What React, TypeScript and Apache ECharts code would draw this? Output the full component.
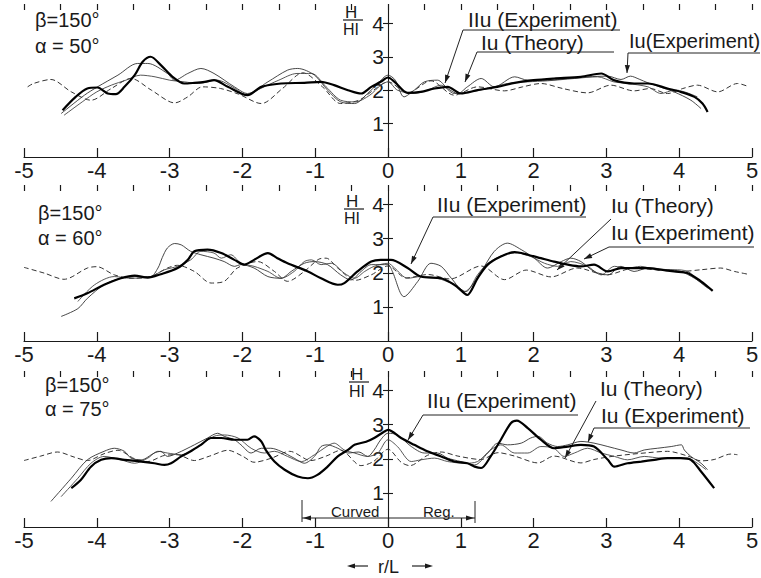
import React, { useEffect, useRef } from 'react';
import * as echarts from 'echarts';

type Pt = [number, number];

// ---- axis tick values ----
const xTickValues = [-5, -4, -3, -2, -1, 0, 1, 2, 3, 4, 5];
const xMinorValues = [-4.5, -3.5, -2.5, -1.5, -0.5, 0.5, 1.5, 2.5, 3.5, 4.5];
const yTickValues = [1, 2, 3, 4];

const panelParams = [
  ['β=150°', 'α = 50°'],
  ['β=150°', 'α = 60°'],
  ['β=150°', 'α = 75°'],
];

// ---- Panel 1 (α = 50°) ----
const p1Theory: Pt[] = [[-4.95,2.1],[-4.87,2.2],[-4.63,2.32],[-4.35,1.95],[-4.08,1.7],[-3.8,2.05],[-3.53,2.35],[-3.25,2.0],[-2.93,1.62],[-2.75,1.8],[-2.55,2.1],[-2.3,2.05],[-2.05,1.88],[-1.74,1.6],[-1.45,2.05],[-1.17,2.52],[-0.9,2.1],[-0.65,1.6],[-0.4,1.7],[-0.2,2.0],[0,2.25],[0.27,1.92],[0.59,2.28],[0.91,1.85],[1.23,2.1],[1.6,1.98],[1.85,2.1],[2.1,2.2],[2.4,2.05],[2.74,1.92],[3.06,2.15],[3.38,1.98],[3.6,2.05],[3.84,1.9],[4.05,2.05],[4.25,2.15],[4.53,1.95],[4.8,2.2],[4.96,2.1]];
const p1IIuExp: Pt[] = [[-4.47,1.4],[-4.29,1.8],[-4.13,2.05],[-3.99,2.08],[-3.85,1.9],[-3.74,1.88],[-3.62,2.1],[-3.48,2.45],[-3.37,2.85],[-3.26,3.0],[-3.12,2.75],[-2.96,2.4],[-2.8,2.2],[-2.66,2.22],[-2.52,2.25],[-2.39,2.3],[-2.2,2.1],[-1.93,1.85],[-1.74,2.1],[-1.47,2.2],[-1.15,2.22],[-0.92,2.25],[-0.74,2.15],[-0.55,2.0],[-0.37,1.9],[-0.23,2.1],[-0.1,2.25],[0,2.38],[0.09,2.25],[0.27,1.92],[0.45,1.95],[0.64,2.05],[0.82,2.1],[1.0,1.9],[1.23,2.0],[1.5,2.1],[1.74,2.22],[2.0,2.3],[2.28,2.35],[2.65,2.4],[2.93,2.5],[3.1,2.3],[3.38,2.2],[3.57,2.2],[3.84,2.05],[4.02,1.95],[4.21,1.8],[4.32,1.6],[4.39,1.35]];
const p1IuExpA: Pt[] = [[-4.49,1.3],[-4.17,1.85],[-3.99,2.1],[-3.71,2.45],[-3.44,2.8],[-3.3,2.8],[-3.03,2.5],[-2.93,2.3],[-2.75,2.5],[-2.57,2.65],[-2.39,2.5],[-2.11,2.1],[-1.93,1.9],[-1.65,2.25],[-1.38,2.6],[-1.24,2.65],[-1.01,2.45],[-0.83,2.0],[-0.65,1.65],[-0.46,1.6],[-0.28,1.9],[-0.14,2.2],[0,2.45],[0.1,2.3],[0.22,1.8],[0.36,2.0],[0.5,2.25],[0.68,2.3],[0.82,2.05],[0.96,1.9],[1.09,2.1],[1.28,2.35],[1.46,2.1],[1.74,2.4],[1.92,2.3],[2.19,2.3],[2.47,2.35],[2.74,2.4],[3.02,2.42],[3.2,2.32],[3.33,2.42],[3.45,2.33],[3.57,2.22],[3.8,2.05],[3.93,1.95],[4.16,1.7],[4.3,1.45]];
const p1IuExpB: Pt[] = [[-4.45,1.25],[-4.2,1.65],[-4.0,1.95],[-3.8,2.15],[-3.6,2.3],[-3.4,2.45],[-3.2,2.4],[-3.0,2.3],[-2.8,2.25],[-2.6,2.2],[-2.35,2.3],[-2.1,2.05],[-1.95,1.85],[-1.75,2.05],[-1.5,2.3],[-1.25,2.5],[-1.05,2.5],[-0.85,2.1],[-0.65,1.7],[-0.45,1.65],[-0.25,1.85],[-0.1,2.15],[0,2.25],[0.13,2.0],[0.36,1.9],[0.54,2.0],[0.73,2.15],[0.91,1.9],[1.14,1.95],[1.37,2.05],[1.64,2.2],[1.92,2.25],[2.19,2.28],[2.56,2.35],[2.88,2.4],[3.1,2.25],[3.29,2.2],[3.57,2.1],[3.75,1.9],[3.93,2.0],[4.07,1.95],[4.25,1.8]];

// ---- Panel 2 (α = 60°) ----
const p2Theory: Pt[] = [[-5.0,2.16],[-4.72,1.99],[-4.45,1.81],[-4.13,2.14],[-4.0,2.18],[-3.76,1.94],[-3.53,1.84],[-3.26,1.89],[-3.03,2.14],[-2.89,2.22],[-2.66,2.04],[-2.43,1.7],[-2.25,1.75],[-2.07,2.14],[-1.79,2.33],[-1.56,2.04],[-1.38,1.75],[-1.15,2.04],[-0.95,2.4],[-0.85,2.43],[-0.69,2.14],[-0.45,1.78],[-0.23,1.94],[0,2.2],[0.25,1.85],[0.55,1.95],[0.85,1.82],[1.28,2.2],[1.6,1.8],[1.9,2.08],[2.24,1.88],[2.6,2.14],[3.0,1.94],[3.38,2.14],[3.66,2.09],[4.02,2.04],[4.3,2.09],[4.57,2.14],[4.76,2.04],[4.94,1.96]];
const p2IIuExp: Pt[] = [[-4.31,1.25],[-4.13,1.4],[-3.9,1.65],[-3.67,1.84],[-3.48,1.92],[-3.3,1.86],[-3.12,1.96],[-2.89,2.14],[-2.75,2.38],[-2.66,2.63],[-2.48,2.68],[-2.29,2.58],[-2.11,2.38],[-1.97,2.24],[-1.84,2.38],[-1.65,2.58],[-1.52,2.43],[-1.38,2.28],[-1.1,2.04],[-0.92,1.84],[-0.69,1.65],[-0.6,1.7],[-0.42,2.04],[-0.23,2.33],[-0.1,2.38],[0.04,2.38],[0.27,2.14],[0.45,1.89],[0.73,1.84],[0.91,1.65],[1.05,1.4],[1.09,1.35],[1.23,1.84],[1.37,2.24],[1.55,2.48],[1.74,2.61],[1.92,2.53],[2.1,2.43],[2.28,2.33],[2.47,2.24],[2.65,2.19],[2.83,2.24],[3.02,2.04],[3.2,2.14],[3.38,2.14],[3.57,2.14],[3.75,2.09],[3.93,2.04],[4.12,1.99],[4.3,1.75],[4.46,1.47]];
const p2IuExpA: Pt[] = [[-4.49,0.72],[-4.26,0.95],[-4.13,1.25],[-3.9,1.65],[-3.67,1.84],[-3.44,1.89],[-3.26,1.89],[-3.16,2.14],[-3.1,2.45],[-3.03,2.73],[-2.93,2.86],[-2.84,2.82],[-2.71,2.63],[-2.57,2.53],[-2.39,2.43],[-2.25,2.33],[-2.11,2.19],[-2.02,2.24],[-1.84,2.14],[-1.65,1.89],[-1.47,1.84],[-1.33,2.04],[-1.15,2.28],[-1.01,2.33],[-0.83,2.24],[-0.65,1.94],[-0.51,1.79],[-0.37,2.04],[-0.23,2.24],[0,2.24],[0.06,2.04],[0.22,1.3],[0.41,1.75],[0.59,2.28],[0.73,2.19],[0.87,1.84],[1.05,1.45],[1.28,2.04],[1.46,2.63],[1.64,2.87],[1.83,2.68],[2.01,2.43],[2.19,2.14],[2.38,2.33],[2.51,2.43],[2.65,2.33],[2.83,2.04],[3.02,1.94],[3.2,2.19],[3.38,2.04],[3.57,2.14],[3.84,2.09],[4.02,2.04],[4.21,1.84],[4.44,1.5]];
const p2IuExpB: Pt[] = [[-4.26,1.16],[-4.03,1.65],[-3.76,1.89],[-3.53,1.84],[-3.26,1.89],[-3.07,2.09],[-2.89,2.19],[-2.71,2.38],[-2.57,2.63],[-2.39,2.58],[-2.29,2.43],[-2.16,2.53],[-2.02,2.28],[-1.84,2.19],[-1.65,2.04],[-1.47,1.84],[-1.29,2.04],[-1.15,2.33],[-1.05,2.38],[-0.92,2.24],[-0.78,2.28],[-0.6,1.99],[-0.46,1.84],[-0.32,2.04],[-0.19,2.19],[0,2.28],[0.09,2.14],[0.27,1.84],[0.45,1.89],[0.68,1.84],[0.91,1.65],[1.07,1.45],[1.23,1.94],[1.37,2.28],[1.6,2.53],[1.78,2.58],[1.96,2.48],[2.15,2.28],[2.33,2.19],[2.51,2.33],[2.74,2.19],[2.93,1.94],[3.11,2.19],[3.29,2.14],[3.47,2.19],[3.71,2.09],[3.93,2.09],[4.12,2.04],[4.25,1.79],[4.39,1.55]];

// ---- Panel 3 (α = 75°) ----
const p3Theory: Pt[] = [[-5.0,1.95],[-4.77,2.08],[-4.54,2.2],[-4.31,2.05],[-4.13,1.95],[-3.9,2.15],[-3.71,2.25],[-3.48,2.0],[-3.3,1.92],[-3.07,2.1],[-2.9,2.12],[-2.66,1.95],[-2.45,2.08],[-2.2,2.25],[-2.0,2.08],[-1.84,1.9],[-1.6,2.02],[-1.35,2.22],[-1.06,1.95],[-0.85,2.08],[-0.65,2.25],[-0.37,1.8],[-0.2,1.92],[0,2.28],[0.18,1.9],[0.3,1.8],[0.54,2.1],[0.73,2.2],[0.96,2.08],[1.28,1.98],[1.51,2.18],[1.74,2.08],[2.06,1.88],[2.28,2.08],[2.65,1.88],[2.83,1.98],[3.11,2.08],[3.57,2.18],[3.84,2.22],[4.12,2.08],[4.3,1.94],[4.48,1.98],[4.71,2.14],[4.8,2.12]];
const p3IIuExp: Pt[] = [[-4.35,1.14],[-4.22,1.38],[-4.08,1.77],[-3.94,1.97],[-3.8,2.02],[-3.62,1.97],[-3.39,1.92],[-3.21,1.87],[-3.07,1.82],[-2.98,1.87],[-2.84,2.07],[-2.71,2.22],[-2.57,2.41],[-2.43,2.61],[-2.29,2.61],[-2.11,2.56],[-1.93,2.56],[-1.84,2.66],[-1.74,2.51],[-1.68,2.26],[-1.56,1.92],[-1.42,1.68],[-1.24,1.48],[-1.1,1.43],[-0.97,1.53],[-0.83,1.77],[-0.69,2.07],[-0.55,2.26],[-0.46,2.41],[-0.3,2.5],[-0.19,2.61],[-0.05,2.8],[0,2.85],[0.18,2.61],[0.36,2.41],[0.54,2.22],[0.73,2.07],[0.91,1.92],[1.09,1.87],[1.19,1.77],[1.28,1.73],[1.41,2.07],[1.55,2.56],[1.69,3.05],[1.77,3.12],[1.92,2.9],[2.1,2.56],[2.28,2.31],[2.47,2.36],[2.65,2.41],[2.83,2.36],[3.02,1.97],[3.11,1.77],[3.29,1.87],[3.48,1.92],[3.66,1.97],[3.84,2.02],[4.02,2.02],[4.16,1.97],[4.3,1.63],[4.48,1.14]];
const p3IuExpA: Pt[] = [[-4.63,0.75],[-4.35,1.43],[-4.13,1.97],[-3.9,2.22],[-3.76,2.31],[-3.62,2.22],[-3.53,2.02],[-3.39,1.97],[-3.21,2.17],[-3.12,2.22],[-3.03,2.07],[-2.89,2.17],[-2.66,2.41],[-2.48,2.61],[-2.34,2.75],[-2.25,2.66],[-2.11,2.56],[-2.02,2.41],[-1.88,2.17],[-1.74,2.31],[-1.61,2.31],[-1.47,2.22],[-1.29,2.02],[-1.15,1.87],[-1.01,2.07],[-0.92,2.36],[-0.83,2.41],[-0.69,2.31],[-0.55,2.17],[-0.4,2.2],[-0.28,2.07],[-0.19,2.26],[-0.1,2.56],[0,2.75],[0.13,2.7],[0.32,2.36],[0.5,2.17],[0.68,2.17],[0.82,2.02],[1.0,1.92],[1.19,1.82],[1.37,2.17],[1.51,2.46],[1.64,2.41],[1.83,2.46],[1.96,2.61],[2.06,2.66],[2.19,2.46],[2.33,2.36],[2.47,2.41],[2.65,2.51],[2.83,2.46],[3.02,2.36],[3.2,2.26],[3.38,2.17],[3.52,2.26],[3.7,2.31],[3.89,2.36],[4.03,2.41],[4.07,2.26],[4.16,2.07],[4.3,1.87],[4.39,1.68]];
const p3IuExpB: Pt[] = [[-4.49,0.89],[-4.26,1.43],[-4.08,1.87],[-3.9,2.07],[-3.67,1.97],[-3.48,1.87],[-3.3,2.02],[-3.16,2.22],[-3.03,2.17],[-2.84,2.12],[-2.61,2.36],[-2.39,2.66],[-2.25,2.7],[-2.06,2.61],[-1.88,2.31],[-1.7,2.17],[-1.56,2.22],[-1.38,2.07],[-1.19,1.92],[-1.01,2.12],[-0.85,2.35],[-0.74,2.46],[-0.6,2.26],[-0.46,2.17],[-0.28,2.07],[-0.14,2.17],[0,2.56],[0.13,2.36],[0.32,1.92],[0.45,1.97],[0.64,2.02],[0.82,1.92],[1.05,1.87],[1.23,1.92],[1.41,2.26],[1.55,2.41],[1.74,2.17],[1.92,2.17],[2.1,2.36],[2.28,2.31],[2.42,2.07],[2.56,2.17],[2.74,2.31],[2.93,2.17],[3.11,2.07],[3.29,1.97],[3.52,2.07],[3.75,2.02],[3.98,2.02],[4.12,2.02],[4.25,1.87],[4.37,1.68]];

const panels = [
  { theory: p1Theory, thick: p1IIuExp, thinA: p1IuExpA, thinB: p1IuExpB },
  { theory: p2Theory, thick: p2IIuExp, thinA: p2IuExpA, thinB: p2IuExpB },
  { theory: p3Theory, thick: p3IIuExp, thinA: p3IuExpA, thinB: p3IuExpB },
];

// ---- layout (pixels) ----
const GRID_LEFT = 24;
const GRID_RIGHT = 9;
const W = 761;
const H = 578;
const ZERO_X_OFFSET = (W - GRID_LEFT - GRID_RIGHT) / 2;
const panelBoxes = [
  { top: 10, height: 147 },
  { top: 191, height: 150 },
  { top: 377, height: 150 },
];
const paramPos = [
  { x: 35, y1: 10, y2: 36 },
  { x: 38, y1: 203, y2: 228 },
  { x: 45, y1: 375, y2: 399 },
];
const fracPos = [
  { x: 343, y: 4 },
  { x: 344, y: 193 },
  { x: 349, y: 366 },
];

const INK = '#1a1a1a';
const FONT = '"Liberation Sans", Arial, "DejaVu Sans", sans-serif';

function arrowHead(tx: number, ty: number, fx: number, fy: number, size = 8, half = 2.6) {
  const dx = tx - fx;
  const dy = ty - fy;
  const L = Math.hypot(dx, dy) || 1;
  const ux = dx / L;
  const uy = dy / L;
  const bx = tx - ux * size;
  const by = ty - uy * size;
  return {
    type: 'polygon',
    silent: true,
    shape: { points: [[tx, ty], [bx - uy * half, by + ux * half], [bx + uy * half, by - ux * half]] },
    style: { fill: INK },
  };
}

function label(text: string, x: number, y: number, fontSize = 21) {
  return {
    type: 'text',
    silent: true,
    x,
    y,
    style: { text, fill: INK, font: `${fontSize}px ${FONT}`, textVerticalAlign: 'top', textAlign: 'left' },
  };
}

function leader(points: number[][]) {
  const n = points.length;
  return [
    { type: 'polyline', silent: true, shape: { points }, style: { stroke: '#222', lineWidth: 1, fill: 'none' } },
    arrowHead(points[n - 1][0], points[n - 1][1], points[n - 2][0], points[n - 2][1]),
  ];
}

const annotations = [
  // panel 1
  { text: 'IIu (Experiment)', x: 468, y: 9, size: 21, path: [[620, 30], [463, 30], [445, 83]] },
  { text: 'Iu (Theory)', x: 481, y: 32, size: 21, path: [[614, 52], [477, 52], [465, 82]] },
  { text: 'Iu(Experiment)', x: 629, y: 31, size: 20, path: [[760, 53], [628, 53], [627, 73]] },
  // panel 2
  { text: 'IIu (Experiment)', x: 437, y: 194, size: 21, path: [[586, 217], [433, 217], [411, 264]] },
  { text: 'Iu (Theory)', x: 611, y: 195, size: 21, path: [[611, 219], [557, 270]] },
  { text: 'Iu (Experiment)', x: 611, y: 222, size: 21, path: [[754, 247], [609, 247], [584, 259]] },
  // panel 3
  { text: 'IIu (Experiment)', x: 427, y: 390, size: 21, path: [[578, 415], [423, 415], [408, 440]] },
  { text: 'Iu (Theory)', x: 600, y: 378, size: 21, path: [[596, 401], [565, 458]] },
  { text: 'Iu (Experiment)', x: 601, y: 405, size: 21, path: [[750, 428], [594, 428], [588, 442]] },
];

export default function App() {
  const ref = useRef<HTMLDivElement>(null);

  useEffect(() => {
    if (!ref.current) return;
    const chart = echarts.init(ref.current, undefined, { renderer: 'svg' });

    const grids: any[] = [];
    const xAxes: any[] = [];
    const yAxes: any[] = [];
    const series: any[] = [];

    panels.forEach((p, i) => {
      grids.push({
        left: GRID_LEFT,
        right: GRID_RIGHT,
        top: panelBoxes[i].top,
        height: panelBoxes[i].height,
        containLabel: false,
        outerBoundsMode: 'none',
        show: false,
      });
      // main x axis: line, major ticks (upward), labels
      xAxes.push({
        type: 'value',
        gridIndex: i,
        min: -5,
        max: 5,
        axisLine: { show: true, onZero: false, lineStyle: { color: INK, width: 1.2 } },
        axisTick: { show: true, inside: true, length: 9, customValues: xTickValues, lineStyle: { color: INK, width: 1.2 } },
        axisLabel: {
          show: true,
          customValues: xTickValues,
          formatter: (v: number) => (v < 0 ? '-' + Math.abs(v) : String(v)),
          fontSize: 22,
          fontFamily: FONT,
          color: INK,
          margin: 2,
        },
        splitLine: { show: false },
      });
      // secondary x axis: downward ticks at halves and integers
      xAxes.push({
        type: 'value',
        gridIndex: i,
        min: -5,
        max: 5,
        axisLine: { show: false, onZero: false },
        axisTick: { show: true, inside: false, length: 6, customValues: [...xTickValues, ...xMinorValues], lineStyle: { color: INK, width: 1.2 } },
        axisLabel: { show: false },
        splitLine: { show: false },
      });
      // main y axis placed on x = 0
      yAxes.push({
        type: 'value',
        gridIndex: i,
        min: 0,
        max: 4.4,
        position: 'left',
        offset: -ZERO_X_OFFSET,
        axisLine: { show: true, onZero: false, lineStyle: { color: INK, width: 1.1 } },
        axisTick: { show: true, inside: false, length: 5, customValues: yTickValues, lineStyle: { color: INK, width: 1.1 } },
        axisLabel: {
          show: true,
          customValues: yTickValues,
          fontSize: 21,
          fontFamily: FONT,
          color: INK,
          margin: 4,
        },
        splitLine: { show: false },
      });
      // secondary y axis: rightward ticks to make crossing marks
      yAxes.push({
        type: 'value',
        gridIndex: i,
        min: 0,
        max: 4.4,
        position: 'left',
        offset: -ZERO_X_OFFSET,
        axisLine: { show: false, onZero: false },
        axisTick: { show: true, inside: true, length: 5, customValues: yTickValues, lineStyle: { color: INK, width: 1.1 } },
        axisLabel: { show: false },
        splitLine: { show: false },
      });

      const common = {
        type: 'line',
        xAxisIndex: 2 * i,
        yAxisIndex: 2 * i,
        showSymbol: false,
        symbol: 'none',
        smooth: 0.3,
        silent: true,
      };
      series.push({ ...common, name: 'Iu (Theory)', data: p.theory, lineStyle: { color: '#333', width: 1, type: [5, 3] }, z: 2 });
      series.push({ ...common, name: 'Iu (Experiment) B', data: p.thinB, lineStyle: { color: '#444', width: 0.9 }, z: 3 });
      series.push({ ...common, name: 'Iu (Experiment)', data: p.thinA, lineStyle: { color: '#333', width: 0.9 }, z: 3 });
      series.push({ ...common, name: 'IIu (Experiment)', data: p.thick, lineStyle: { color: '#000', width: 2.2 }, z: 4 });
    });

    const graphics: any[] = [];
    panelParams.forEach((pp, i) => {
      graphics.push(label(pp[0], paramPos[i].x, paramPos[i].y1, 20));
      graphics.push(label(pp[1], paramPos[i].x, paramPos[i].y2, 20));
      const f = fracPos[i];
      graphics.push(label('H', f.x + 2, f.y, 17));
      graphics.push({ type: 'line', silent: true, shape: { x1: f.x, y1: f.y + 16, x2: f.x + 20, y2: f.y + 16 }, style: { stroke: INK, lineWidth: 1.2 } });
      graphics.push(label('HI', f.x, f.y + 17, 16));
    });
    annotations.forEach((a) => {
      graphics.push(label(a.text, a.x, a.y, a.size));
      graphics.push(...leader(a.path));
    });

    // Curved region bracket (panel 3)
    graphics.push({ type: 'line', silent: true, shape: { x1: 302, y1: 500, x2: 302, y2: 522 }, style: { stroke: '#222', lineWidth: 1 } });
    graphics.push({ type: 'line', silent: true, shape: { x1: 475, y1: 501, x2: 475, y2: 523 }, style: { stroke: '#222', lineWidth: 1 } });
    graphics.push({ type: 'line', silent: true, shape: { x1: 302, y1: 518, x2: 475, y2: 518 }, style: { stroke: '#222', lineWidth: 1 } });
    graphics.push(arrowHead(303, 518, 320, 518));
    graphics.push(arrowHead(474, 518, 455, 518));
    graphics.push(label('Curved', 331, 504, 15));
    graphics.push(label('Reg.', 423, 504, 15));

    // bottom axis title  ← r/L →
    graphics.push({ type: 'line', silent: true, shape: { x1: 368, y1: 566, x2: 350, y2: 566 }, style: { stroke: '#222', lineWidth: 1.2 } });
    graphics.push(arrowHead(347, 566, 360, 566));
    graphics.push(label('r/L', 378, 558, 18));
    graphics.push({ type: 'line', silent: true, shape: { x1: 412, y1: 566, x2: 430, y2: 566 }, style: { stroke: '#222', lineWidth: 1.2 } });
    graphics.push(arrowHead(433, 566, 420, 566));

    chart.setOption({
      animation: false,
      backgroundColor: '#ffffff',
      grid: grids,
      xAxis: xAxes,
      yAxis: yAxes,
      series,
      graphic: graphics,
      tooltip: { show: false },
    });

    return () => chart.dispose();
  }, []);

  return (
    <div
      ref={ref}
      style={{ position: 'absolute', left: 0, top: 0, width: W, height: H, background: '#fff' }}
    />
  );
}
